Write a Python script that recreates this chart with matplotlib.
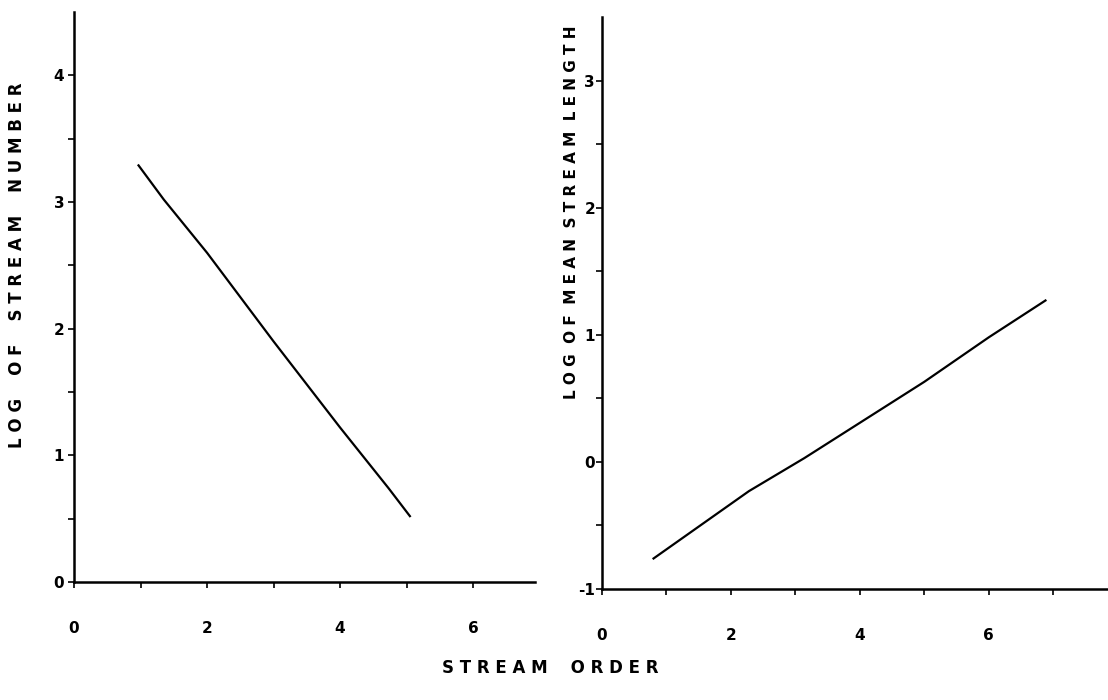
import matplotlib.pyplot as plt
import numpy as np

plt.rcParams["axes.unicode_minus"] = False

# stream number vs order (left panel)
order_num = [0.97, 1.35, 2.0, 3.0, 4.0, 4.73, 5.05]
log_number = [3.29, 3.02, 2.6, 1.9, 1.22, 0.74, 0.52]

# mean stream length vs order (right panel)
order_len = [0.8, 2.28, 3.14, 5.0, 6.0, 6.88]
log_length = [-0.76, -0.23, 0.03, 0.63, 0.98, 1.27]

left_yticks = [0, 1, 2, 3, 4]
right_yticks = [-1, 0, 1, 2, 3]
xticks = [0, 2, 4, 6]


def spaced(text, gap=" ", word_gap="   "):
    return word_gap.join(gap.join(word) for word in text.split())


def style_axes(ax):
    for side in ["top", "right"]:
        ax.spines[side].set_visible(False)
    for side in ["left", "bottom"]:
        ax.spines[side].set_linewidth(1.8)
    ax.tick_params(which="both", direction="out", length=4, width=1.2, labelsize=11)
    ax.tick_params(axis="x", which="major", pad=24)
    ax.tick_params(axis="y", which="major", pad=3)
    for lbl in ax.get_xticklabels() + ax.get_yticklabels():
        lbl.set_fontweight("bold")


fig = plt.figure(figsize=(11.08, 7), dpi=100)

ax1 = fig.add_axes([0.0668, 0.1686, 0.416, 0.814])
ax1.plot(order_num, log_number, color="black", lw=1.6)
ax1.set_xlim(0, 6.93)
ax1.set_ylim(0, 4.5)
ax1.set_xticks(xticks)
ax1.set_xticks(np.arange(0, 7, 1), minor=True)
ax1.set_yticks(left_yticks)
ax1.set_yticks(np.arange(0, 4.5, 0.5), minor=True)
style_axes(ax1)

ax2 = fig.add_axes([0.5433, 0.1586, 0.4567, 0.817])
ax2.plot(order_len, log_length, color="black", lw=1.6)
ax2.set_xlim(0, 7.85)
ax2.set_ylim(-1, 3.5)
ax2.set_xticks(xticks)
ax2.set_xticks(np.arange(0, 8, 1), minor=True)
ax2.set_yticks(right_yticks)
ax2.set_yticks(np.arange(-1, 3.5, 0.5), minor=True)
style_axes(ax2)
ax2.tick_params(axis="y", which="major", pad=1)

fig.text(17 / 1108, 1 - 265 / 700, spaced("LOG OF STREAM NUMBER", word_gap="    "), rotation=90,
         ha="center", va="center", fontsize=12, fontweight="bold")
fig.text(572 / 1108, 1 - 212 / 700, spaced("LOG OF MEAN STREAM LENGTH", word_gap="  "), rotation=90,
         ha="center", va="center", fontsize=11, fontweight="bold")
fig.text(550 / 1108, 1 - 668 / 700, spaced("STREAM ORDER", word_gap="    "),
         ha="center", va="center", fontsize=12, fontweight="bold")

fig.savefig("out.png", dpi=100)
